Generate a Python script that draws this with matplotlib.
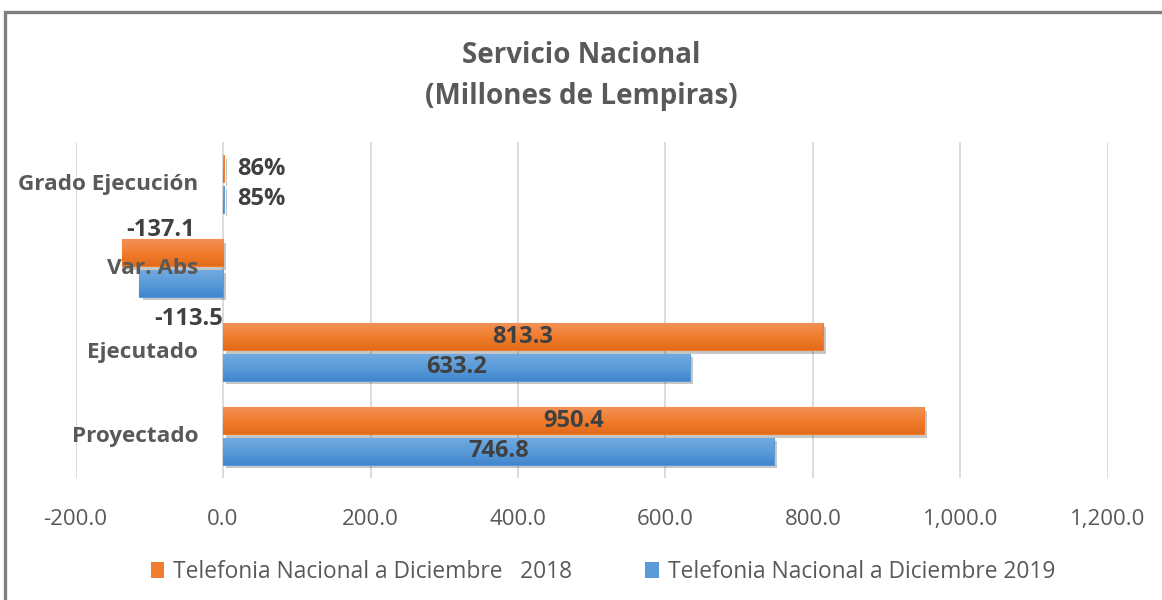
import matplotlib
matplotlib.use("Agg")
import matplotlib.pyplot as plt
import numpy as np
from matplotlib.patches import Rectangle, Patch
from matplotlib import patheffects as pe
from matplotlib.ticker import FuncFormatter

# ---- data ----
categories = ["Proyectado", "Ejecutado", "Var. Abs", "Grado Ejecución"]
series_2018 = [950.4, 813.3, -137.1, 0.86]
series_2019 = [746.8, 633.2, -113.5, 0.85]
label_2018 = "Telefonia Nacional a Diciembre   2018"
label_2019 = "Telefonia Nacional a Diciembre 2019"
is_percent = [False, False, False, True]
title = "Servicio Nacional\n(Millones de Lempiras)"
x_ticks = [-200, 0, 200, 400, 600, 800, 1000, 1200]

# ---- style ----
plt.rcParams['font.family'] = ['Open Sans', 'DejaVu Sans']
TXT = "#595959"
LBL = "#404040"
orange_grad = ["#E26B1A", "#F07D2D", "#F29157"]
blue_grad = ["#4185CD", "#5A9BD8", "#72AAE0"]
DL_SIZE = 17

fig = plt.figure(figsize=(11.62, 6.0), dpi=100)
ax = fig.add_axes([0.065, 0.2033, 0.8885, 0.56])

y = np.arange(len(categories))
h = 0.32
off = 0.18

def grad_img(cols):
    from matplotlib.colors import to_rgb
    c = np.array([to_rgb(k) for k in cols])
    t = np.linspace(0, 1, 64)
    r = np.interp(t, [0, 0.5, 1], c[:, 0])
    g = np.interp(t, [0, 0.5, 1], c[:, 1])
    b = np.interp(t, [0, 0.5, 1], c[:, 2])
    return np.stack([r, g, b], axis=-1)[:, None, :]

shadow = [pe.SimplePatchShadow(offset=(2.5, -2.5), shadow_rgbFace="#000000", alpha=0.22), pe.Normal()]

b18 = ax.barh(y + off, series_2018, height=h, color=orange_grad[1], edgecolor=orange_grad[1], lw=0.8, zorder=3)
b19 = ax.barh(y - off, series_2019, height=h, color=blue_grad[1], edgecolor=blue_grad[1], lw=0.8, zorder=3)

for bars, cols in ((b18, orange_grad), (b19, blue_grad)):
    img = grad_img(cols)
    for bar in bars:
        bar.set_path_effects(shadow)
        x0, y0 = bar.get_x(), bar.get_y()
        w, hh = bar.get_width(), bar.get_height()
        im = ax.imshow(img, extent=(x0, x0 + w, y0, y0 + hh), origin="lower",
                       aspect="auto", zorder=3.5, interpolation="bilinear")
        im.set_clip_path(bar)

ax.set_xlim(-200, 1200)
ax.set_ylim(-0.5, 3.5)
ax.set_xticks(x_ticks)
ax.xaxis.set_major_formatter(FuncFormatter(lambda v, p: f"{v:,.1f}"))
ax.tick_params(axis="x", length=0, pad=22, labelsize=16, labelcolor=TXT)
ax.set_yticks([])
for s in ax.spines.values():
    s.set_visible(False)
ax.grid(axis="x", color="#d9d9d9", lw=1.3, zorder=0)
ax.set_axisbelow(True)

# category labels next to the zero line
for yi, cat in zip(y, categories):
    ax.annotate(cat, xy=(0, yi), xytext=(-18, 0), textcoords="offset points",
                ha="right", va="center", fontsize=16.2, fontweight="bold", color=TXT, zorder=6)

# data labels
def fmt(v, pct):
    return f"{v:.0%}" if pct else f"{v:.1f}"

for bars, vals, side in ((b18, series_2018, 1), (b19, series_2019, -1)):
    for bar, v, pct in zip(bars, vals, is_percent):
        yc = bar.get_y() + bar.get_height() / 2
        if pct:
            ax.annotate(fmt(v, pct), xy=(v, yc), xytext=(10, 0), textcoords="offset points",
                        ha="left", va="center", fontsize=DL_SIZE, fontweight="bold", color=LBL, zorder=6)
        elif v < 0:
            yedge = bar.get_y() + (bar.get_height() if side > 0 else 0)
            dx = -20 if side > 0 else 0
            dy = 6.5 if side > 0 else -16.5
            ax.annotate(fmt(v, pct), xy=(0, yedge), xytext=(dx, dy), textcoords="offset points",
                        ha="right", va="center", fontsize=DL_SIZE,
                        fontweight="bold", color=LBL, zorder=6)
        else:
            ax.annotate(fmt(v, pct), xy=(v / 2, yc), ha="center", va="center",
                        fontsize=DL_SIZE, fontweight="bold", color=LBL, zorder=6)

fig.suptitle(title, y=0.932, fontsize=20, fontweight="bold", color=TXT, linespacing=1.55, va="top")

handles = [Patch(facecolor=orange_grad[1], edgecolor="none"), Patch(facecolor=blue_grad[1], edgecolor="none")]
leg = fig.legend(handles, [label_2018, label_2019], loc="center", bbox_to_anchor=(0.519, 0.047),
                 ncol=2, frameon=False, fontsize=16.4, handlelength=0.6, handleheight=0.7,
                 handletextpad=0.4, columnspacing=3.2)
for t in leg.get_texts():
    t.set_color(TXT)

fig.add_artist(Rectangle((0.0043, -0.05), 1.2, 1.03, transform=fig.transFigure, fill=False,
                         ec="#7f7f7f", lw=2.4))

fig.savefig("out.png", dpi=100)
